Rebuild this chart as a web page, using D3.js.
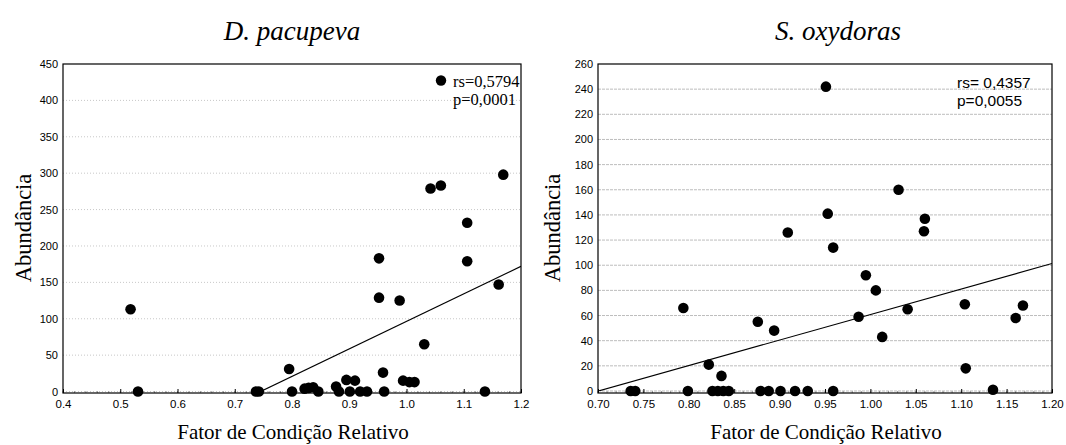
<!DOCTYPE html>
<html>
<head>
<meta charset="utf-8">
<script src="https://cdn.jsdelivr.net/npm/d3@7"></script>
<style>
  body { margin: 0; background: #fff; }
  text { fill: #000; }
  .serif { font-family: 'Liberation Serif', 'Times New Roman', Times, 'DejaVu Serif', serif; }
  .sans { font-family: 'Liberation Sans', Arial, Helvetica, sans-serif; }
</style>
</head>
<body>
<svg id="chart" width="1066" height="445"></svg>
<script>
// D. pacupeva
var pacX = [0.518, 0.531, 0.737, 0.742, 0.795, 0.800, 0.822, 0.829, 0.837, 0.846,
            0.877, 0.882, 0.895, 0.901, 0.910, 0.919, 0.931, 0.952, 0.952, 0.959,
            0.961, 0.988, 0.994, 1.005, 1.014, 1.031, 1.042, 1.060, 1.106, 1.106,
            1.137, 1.161, 1.169]
var pacY = [113, 0, 0, 0, 31, 0, 4, 5, 6, 0,
            7, 0, 16, 0, 15, 0, 0, 183, 129, 26,
            0, 125, 15, 13, 13, 65, 279, 283, 232, 179,
            0, 147, 298]
var pacFit = { a: -281.6, b: 378 }
var pacXTicks = [0.4, 0.5, 0.6, 0.7, 0.8, 0.9, 1.0, 1.1, 1.2]
var pacYTicks = [0, 50, 100, 150, 200, 250, 300, 350, 400, 450]

// S. oxydoras
var oxyX = [0.736, 0.741, 0.794, 0.799, 0.822, 0.826, 0.832, 0.836, 0.838, 0.844,
            0.876, 0.879, 0.888, 0.894, 0.901, 0.909, 0.917, 0.931, 0.951, 0.953,
            0.959, 0.959, 0.987, 0.995, 1.006, 1.013, 1.031, 1.041, 1.060, 1.059,
            1.104, 1.105, 1.135, 1.160, 1.168]
var oxyY = [0, 0, 66, 0, 21, 0, 0, 12, 0, 0,
            55, 0, 0, 48, 0, 126, 0, 0, 242, 141,
            114, 0, 59, 92, 80, 43, 160, 65, 137, 127,
            69, 18, 1, 58, 68]
var oxyFit = { a: -142.2, b: 203 }
var oxyXTicks = [0.70, 0.75, 0.80, 0.85, 0.90, 0.95, 1.00, 1.05, 1.10, 1.15, 1.20]
var oxyYTicks = d3.range(0, 261, 20)

var svg = d3.select('#chart')

renderPanel(svg, {
  title: 'D. pacupeva',
  titleX: 292,
  left: 63, right: 521, top: 64, bottom: 393,
  xDomain: [0.4, 1.2], yDomain: [-2, 450],
  xTicks: pacXTicks, yTicks: pacYTicks, xFormat: d3.format('.1f'),
  xs: pacX, ys: pacY, fit: pacFit,
  gridStyle: { stroke: '#c8c8c8', dash: '1,2' },
  yLabelX: 24
})

renderPanel(svg, {
  title: 'S. oxydoras',
  titleX: 838,
  left: 598, right: 1052, top: 64, bottom: 393,
  xDomain: [0.7, 1.2], yDomain: [-1.6, 260],
  xTicks: oxyXTicks, yTicks: oxyYTicks, xFormat: d3.format('.2f'),
  xs: oxyX, ys: oxyY, fit: oxyFit,
  gridStyle: { stroke: '#bdbdbd', dash: '3,1' },
  yLabelX: 553
})

// annotations
var ann = svg.append('g')
ann.append('circle').attr('cx', 441).attr('cy', 80.5).attr('r', 5.2).attr('fill', '#000')
ann.append('text').attr('class', 'serif').attr('x', 453).attr('y', 86.5)
    .attr('font-size', 16.5).text('rs=0,5794')
ann.append('text').attr('class', 'serif').attr('x', 453).attr('y', 104.5)
    .attr('font-size', 16.5).text('p=0,0001')
ann.append('text').attr('class', 'sans').attr('x', 957).attr('y', 88)
    .attr('font-size', 15.5).text('rs= 0,4357')
ann.append('text').attr('class', 'sans').attr('x', 957).attr('y', 106)
    .attr('font-size', 15.5).text('p=0,0055')

function renderPanel (svg, cfg) {
  var x = d3.scaleLinear().domain(cfg.xDomain).range([cfg.left, cfg.right])
  var y = d3.scaleLinear().domain(cfg.yDomain).range([cfg.bottom, cfg.top])

  var g = svg.append('g').attr('class', 'panel')

  // grid
  g.append('g').selectAll('line').data(cfg.yTicks.slice(0, -1)).join('line')
      .attr('x1', cfg.left).attr('x2', cfg.right)
      .attr('y1', function (d) { return y(d) }).attr('y2', function (d) { return y(d) })
      .attr('stroke', cfg.gridStyle.stroke)
      .attr('stroke-dasharray', cfg.gridStyle.dash)
      .attr('stroke-width', 1)

  // minor x ticks
  var step = cfg.xTicks[1] - cfg.xTicks[0]
  var minor = d3.range(cfg.xDomain[0], cfg.xDomain[1] + 1e-9, step / 5)
  g.append('g').selectAll('line').data(minor).join('line')
      .attr('x1', function (d) { return x(d) }).attr('x2', function (d) { return x(d) })
      .attr('y1', cfg.bottom).attr('y2', cfg.bottom - 2)
      .attr('stroke', '#999')

  // regression line, clipped to the plot
  var clipId = 'clip-' + cfg.left
  g.append('clipPath').attr('id', clipId).append('rect')
      .attr('x', cfg.left).attr('y', cfg.top)
      .attr('width', cfg.right - cfg.left).attr('height', y(0) - cfg.top)
  var fx = [cfg.xDomain[0], cfg.xDomain[1]]
  g.append('line')
      .attr('clip-path', 'url(#' + clipId + ')')
      .attr('x1', x(fx[0])).attr('y1', y(cfg.fit.a + cfg.fit.b * fx[0]))
      .attr('x2', x(fx[1])).attr('y2', y(cfg.fit.a + cfg.fit.b * fx[1]))
      .attr('stroke', '#000').attr('stroke-width', 1.2)

  // points
  g.append('g').selectAll('circle').data(cfg.xs).join('circle')
      .attr('cx', function (d) { return x(d) })
      .attr('cy', function (d, i) { return y(cfg.ys[i]) })
      .attr('r', 5.3)
      .attr('fill', '#000')

  // frame
  g.append('rect')
      .attr('x', cfg.left).attr('y', cfg.top)
      .attr('width', cfg.right - cfg.left).attr('height', cfg.bottom - cfg.top)
      .attr('fill', 'none').attr('stroke', '#000').attr('stroke-width', 1.2)

  // axes
  var xAxis = d3.axisBottom(x).tickValues(cfg.xTicks).tickFormat(cfg.xFormat)
      .tickSizeInner(-4).tickSizeOuter(0).tickPadding(7)
  var xg = g.append('g').attr('transform', 'translate(0,' + cfg.bottom + ')').call(xAxis)
  xg.select('.domain').remove()
  xg.attr('font-family', null).attr('font-size', null)
  xg.selectAll('text').attr('class', 'sans').attr('font-size', 11.5)

  var yAxis = d3.axisLeft(y).tickValues(cfg.yTicks).tickSizeInner(0).tickSizeOuter(0).tickPadding(5)
  var yg = g.append('g').attr('transform', 'translate(' + cfg.left + ',0)').call(yAxis)
  yg.select('.domain').remove()
  yg.attr('font-family', null).attr('font-size', null)
  yg.selectAll('text').attr('class', 'sans').attr('font-size', 11)

  // titles
  g.append('text').attr('class', 'serif')
      .attr('x', cfg.titleX).attr('y', 40)
      .attr('text-anchor', 'middle')
      .attr('font-style', 'italic').attr('font-size', 27)
      .text(cfg.title)

  g.append('text').attr('class', 'serif')
      .attr('x', (cfg.left + cfg.right) / 2 + 1).attr('y', 439)
      .attr('text-anchor', 'middle')
      .attr('font-size', 21)
      .text('Fator de Condição Relativo')

  g.append('text').attr('class', 'serif')
      .attr('transform', 'translate(' + (cfg.yLabelX + 7) + ',' + 228 + ') rotate(-90)')
      .attr('text-anchor', 'middle')
      .attr('font-size', 22.5)
      .text('Abundância')
}
</script>
</body>
</html>
